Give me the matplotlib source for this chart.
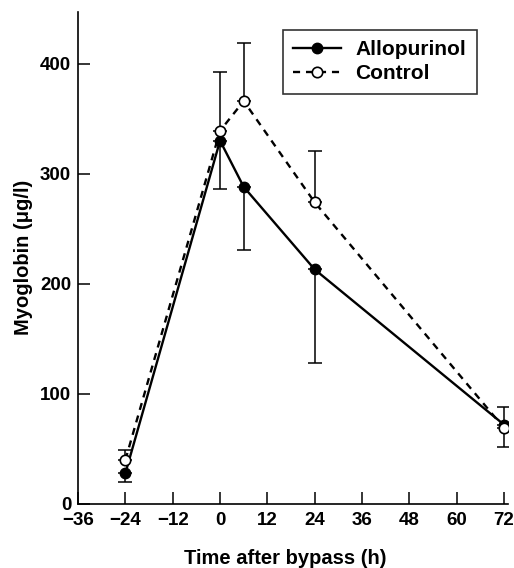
import matplotlib
matplotlib.use("Agg")
from matplotlib import pyplot as plt
import numpy as np

plt.rcParams['font.family'] = ['Liberation Sans', 'DejaVu Sans']
plt.rcParams['font.weight'] = 'bold'

# hours after bypass
hours = [-24, 0, 6, 24, 72]

allopurinol = [28, 330, 288, 213, 72]
allo_err_low = [8, 44, 57, 85, 0]
allo_err_high = [0, 0, 0, 0, 16]

control = [40, 339, 366, 274, 69]
ctrl_err_low = [0, 0, 0, 0, 17]
ctrl_err_high = [9, 53, 53, 47, 0]

x_ticks = [-36, -24, -12, 0, 12, 24, 36, 48, 60, 72]
y_ticks = [0, 100, 200, 300, 400]

fig = plt.figure(figsize=(5.14, 5.68), dpi=100)
ax = fig.add_axes([0.152, 0.113, 0.836, 0.866])

ax.errorbar(hours, control, yerr=[ctrl_err_low, ctrl_err_high], fmt='none',
            ecolor='black', elinewidth=1.1, capsize=5, capthick=1.1, zorder=2)
ax.errorbar(hours, allopurinol, yerr=[allo_err_low, allo_err_high], fmt='none',
            ecolor='black', elinewidth=1.1, capsize=5, capthick=1.1, zorder=2)

ax.plot(hours, allopurinol, '-', color='black', lw=1.7, marker='o', ms=7.5,
        mfc='black', mec='black', label='Allopurinol', zorder=3)
ax.plot(hours, control, '--', color='black', lw=1.7, marker='o', ms=7.5,
        mfc='white', mec='black', mew=1.2, label='Control', zorder=4,
        dashes=(3, 2.5))

ax.set_xlim(-36, 73)
ax.set_ylim(0, 447)
ax.set_xticks(x_ticks)
ax.set_yticks(y_ticks)
ax.tick_params(direction='in', length=8.5, width=1.1, labelsize=13.5)
ax.tick_params(axis='x', pad=6)
ax.tick_params(axis='y', pad=5)
for lab in ax.get_xticklabels() + ax.get_yticklabels():
    lab.set_fontweight('bold')

ax.spines['top'].set_visible(False)
ax.spines['right'].set_visible(False)
ax.spines['left'].set_linewidth(1.2)
ax.spines['bottom'].set_linewidth(1.2)

ax.set_xlabel('Time after bypass (h)', fontsize=14.5, fontweight='bold')
ax.xaxis.set_label_coords(0.481, -0.092)
ax.set_ylabel('Myoglobin (\u03bcg/l)', fontsize=14.5, fontweight='bold')
ax.yaxis.set_label_coords(-0.105, 0.5)

leg = ax.legend(loc='upper right', bbox_to_anchor=(0.952, 0.985), fontsize=15,
                frameon=True, fancybox=False, edgecolor='black', handlelength=2.3,
                borderpad=0.5, labelspacing=0.25, handletextpad=0.7)
leg.get_frame().set_linewidth(1.2)
for t in leg.get_texts():
    t.set_fontweight('bold')

fig.savefig('out.png', dpi=100)
